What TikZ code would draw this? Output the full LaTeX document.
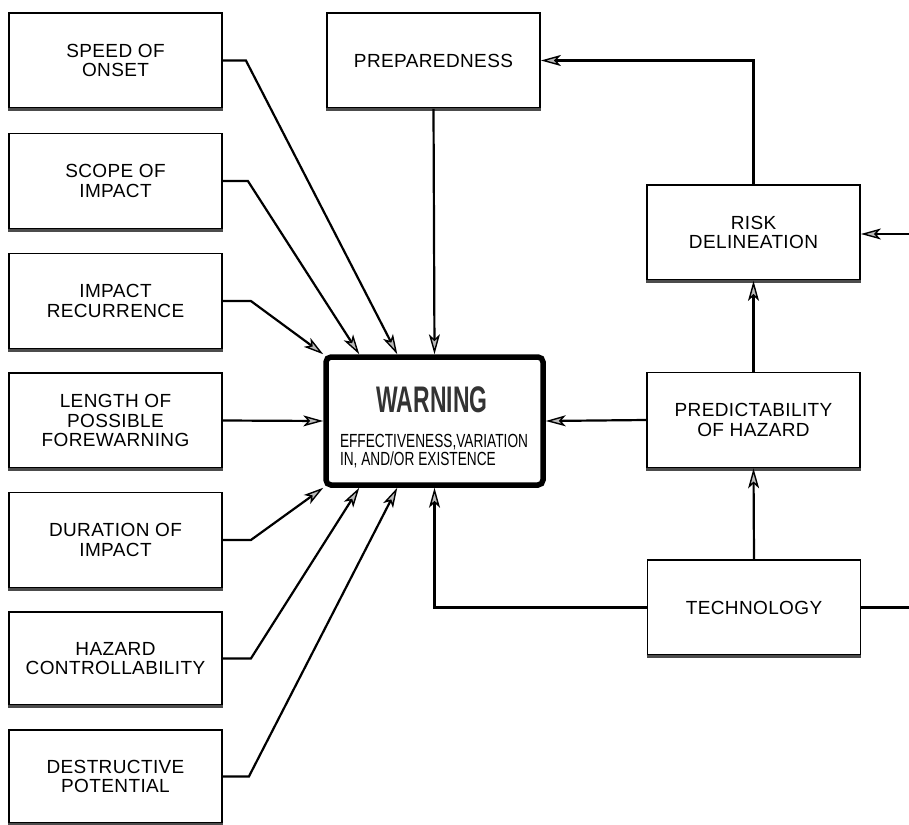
\documentclass[tikz,border=0pt]{standalone}
\usepackage{fontspec}
\usetikzlibrary{arrows.meta,positioning}
\newfontfamily\boxfont[LetterSpace=2]{Liberation Sans}
\newfontfamily\subfont[FakeStretch=0.72]{Liberation Sans}
\newfontfamily\titlefont[FakeStretch=0.62]{Liberation Sans}
\begin{document}
\begin{tikzpicture}[x=1pt,y=-1pt,
  fbox/.style={draw, line width=1.8pt, minimum width=213pt, minimum height=95pt,
    inner sep=0pt, align=center, font=\boxfont\fontsize{19}{19.5}\selectfont},
  conn/.style={line width=2.2pt, -{Stealth[length=20pt,width=11pt,inset=5pt,line width=1.4pt,fill=gray!55]}},
  plain/.style={line width=2.2pt}]
\useasboundingbox (0,0) rectangle (909,824);
% left column
\node[fbox] (speed) at (115.5,60.5) {SPEED OF\\ONSET};
\node[fbox] (scope) at (115.5,181) {SCOPE OF\\IMPACT};
\node[fbox] (recur) at (115.5,301) {IMPACT\\RECURRENCE};
\node[fbox] (length) at (115.5,420.5) {LENGTH OF\\POSSIBLE\\FOREWARNING};
\node[fbox] (durat) at (115.5,540) {DURATION OF\\IMPACT};
\node[fbox, minimum height=93pt] (control) at (115.5,658.5) {HAZARD\\CONTROLLABILITY};
\node[fbox, minimum height=93pt] (destr) at (115.5,776.5) {DESTRUCTIVE\\POTENTIAL};
% centre
\node[fbox] (prep) at (433.5,60.5) {PREPAREDNESS};
\node[draw, line width=5.5pt, rounded corners=5pt, minimum width=217pt, minimum height=128pt, inner sep=0pt] (warn) at (434.5,421) {};
\node[inner sep=0pt, text=black!80, font=\titlefont\bfseries\fontsize{37}{37}\selectfont] (wtitle) at (432,400) {WARNING};
\node[inner sep=0pt, align=left, font=\subfont\fontsize{19}{15}\selectfont] (wsub) at (434,451) {EFFECTIVENESS,VARIATION\\IN, AND/OR EXISTENCE};
% right column
\node[fbox] (risk) at (753.5,232.5) {RISK\\DELINEATION};
\node[fbox] (pred) at (753.5,420) {PREDICTABILITY\\OF HAZARD};
\node[fbox] (tech) at (754,607.5) {TECHNOLOGY};
% shadows on box bottoms
\foreach \n in {speed,scope,recur,length,durat,control,destr,prep,risk,pred,tech}
  \draw[line width=3pt, black!70] ([yshift=-1pt]\n.south west) -- ([yshift=-1pt]\n.south east);
% connectors from the left
\draw[conn] (speed.east) -- ++(23,0) -- ([xshift=74pt]warn.north west);
\draw[conn] (scope.east) -- ++(25,0) -- ([xshift=36pt]warn.north west);
\draw[conn] (recur.east) -- ++(28,0) -- (warn.north west);
\draw[conn] (length.east) -- (warn.west);
\draw[conn] (durat.east) -- ++(28,0) -- (warn.south west);
\draw[conn] (control.east) -- ++(28,0) -- ([xshift=36pt]warn.south west);
\draw[conn] (destr.east) -- ++(26,0) -- ([xshift=74pt]warn.south west);
% centre / right connectors
\draw[conn] (prep.south) -- (warn.north);
\draw[conn] (tech.west) -- (warn.south |- tech.west) -- (warn.south);
\draw[conn] (pred.west) -- (warn.east);
\draw[conn] (tech.north) -- (pred.south);
\draw[conn] (pred.north) -- (risk.south);
\draw[conn] (risk.north) -- (risk.north |- prep.east) -- (prep.east);
\coordinate (rin) at (909,234);
\coordinate (tout) at (909,607.5);
\draw[conn] (rin) -- (rin -| risk.east);
\draw[plain] (tech.east) -- (tout);
\end{tikzpicture}
\end{document}
